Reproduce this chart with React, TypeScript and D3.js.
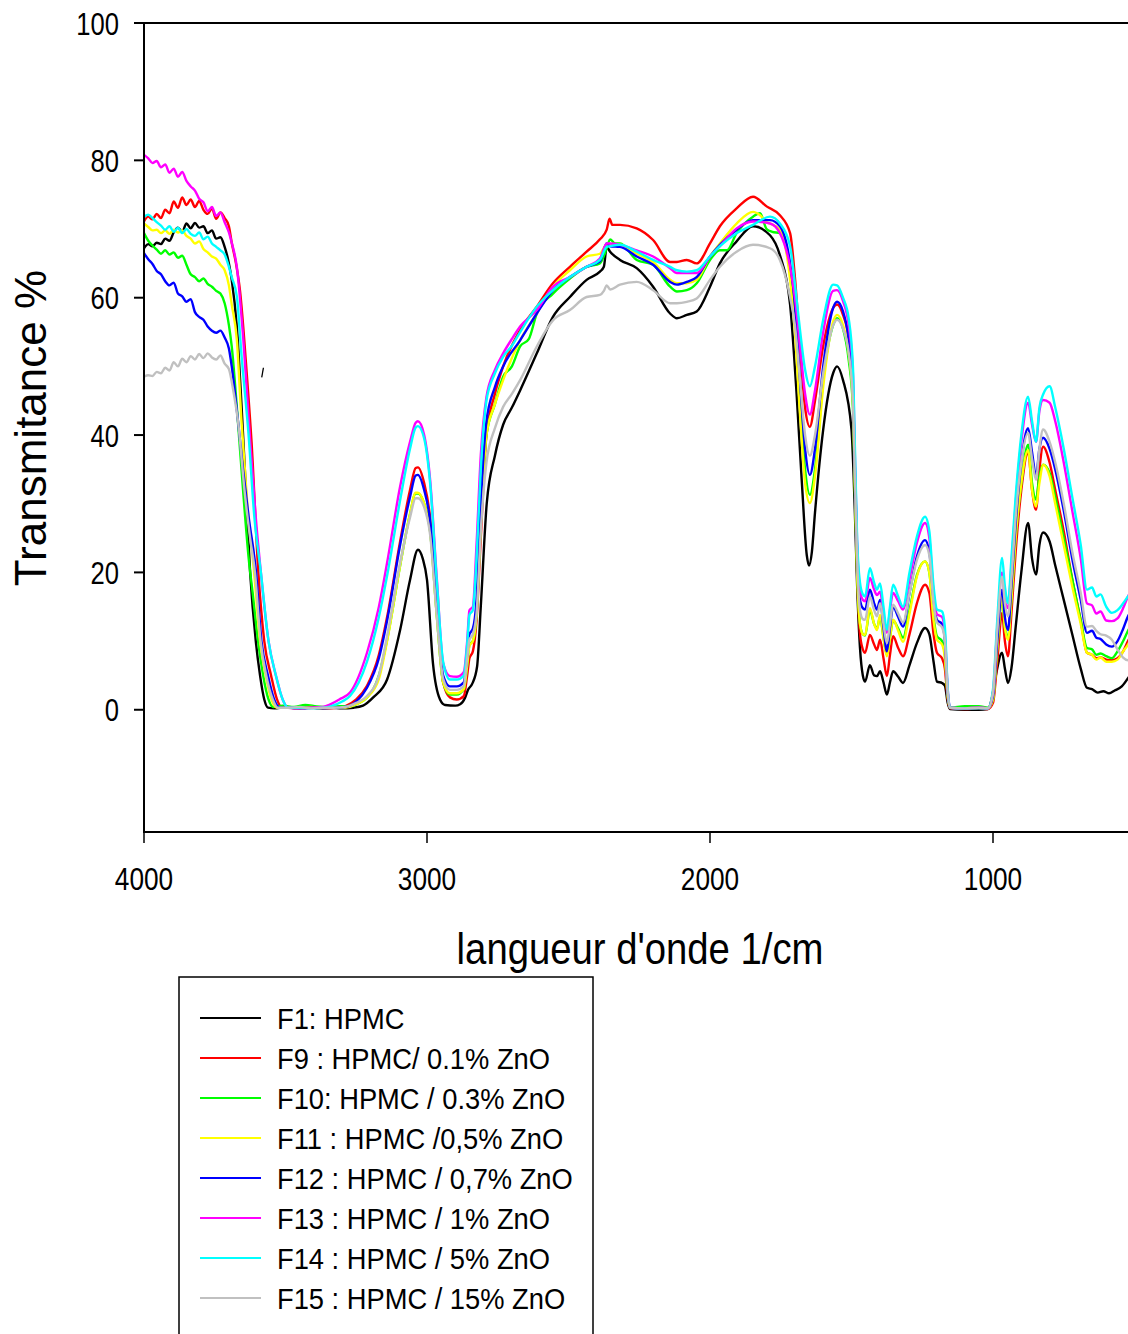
import React from 'react';
import * as d3 from 'd3';

type P = [number, number];

const noiseWaves = [4000, 3985, 3970, 3955, 3940, 3925, 3910, 3895, 3880, 3865, 3850, 3835, 3820, 3805, 3790, 3775, 3760, 3745, 3730, 3715, 3700];

const f1Noise = [67.2, 67.8, 67.5, 68.0, 67.8, 68.6, 68.3, 69.5, 70.2, 69.6, 70.8, 70.1, 70.9, 70.2, 70.4, 69.4, 69.8, 68.6, 68.8, 67.4, 65.0];
const f1Tail: P[] = [[3690,62.6],[3672,55.8],[3655,44],[3640,32],[3625,20],[3605,10],[3590,5],[3575,1.5],[3562,0.3],[3540,0.2],[3500,0.4],[3460,0.2],[3420,0.4],[3380,0.2],[3340,0.3],[3300,0.2],[3260,0.3],[3226,0.6],[3190,1.8],[3141,4.4],[3095,11.6],[3060,18.9],[3032,23.3],[3015,22],[3000,18.9],[2979,6.8],[2954,1.5],[2936,0.7],[2900,0.6],[2883,0.8],[2865,1.8],[2855,2.9],[2840,3.8],[2823,6.3],[2810,15],[2789,30],[2760,37],[2731,41.5],[2700,44],[2671,46.5],[2612,51.9],[2555,57.2],[2495,60.1],[2436,62.6],[2389,63.8],[2375,64.5],[2365,67.4],[2353,66.7],[2318,65.5],[2259,64.3],[2201,61.6],[2141,57.7],[2117,57],[2082,57.5],[2047,58],[2000,61.6],[1965,65],[1906,68.2],[1848,70.4],[1788,69.1],[1753,66.2],[1717,59],[1694,46],[1676,33.5],[1658,22.5],[1650,21],[1640,23],[1629,28.7],[1600,40.8],[1565,49],[1551,50],[1530,48],[1500,40.8],[1488,28.7],[1480,18],[1470,9],[1460,5],[1452,4.1],[1435,6.5],[1420,5.0],[1410,4.9],[1399,5.6],[1387,4],[1375,2.2],[1364,4],[1353,5.6],[1335,4.8],[1318,3.9],[1295,6.5],[1269,9.7],[1240,11.9],[1225,11],[1210,7],[1198,4.1],[1180,3.9],[1170,3.5],[1160,1],[1152,0.1],[1100,0],[1050,0],[1018,0.1],[1005,1.5],[990,5],[968,8.3],[958,6],[947,3.9],[935,6],[920,12],[900,20],[876,27.2],[862,22],[848,19.7],[836,24],[823,25.8],[800,24.5],[780,21],[750,16],[720,11],[690,6],[668,3.2],[650,3],[630,2.5],[610,2.7],[590,2.4],[570,2.8],[545,3.4],[523,4.6],[510,5.5]];

const f9Noise = [71.1, 71.8, 71.4, 72.2, 71.6, 72.8, 72.3, 74.0, 73.1, 74.6, 73.5, 74.3, 73.2, 74.1, 72.8, 72.2, 73.0, 71.5, 72.4, 71.6, 70.4];
const f9Tail: P[] = [[3690,68],[3675,65],[3661,61.1],[3637,49],[3620,39],[3596,20],[3575,10],[3551,5],[3530,1.5],[3512,0.3],[3480,0.3],[3440,0.2],[3400,0.4],[3360,0.2],[3320,0.3],[3290,0.5],[3250,1.5],[3212,3.5],[3170,8],[3141,13.5],[3095,24.5],[3060,32],[3040,35.2],[3032,35.3],[3010,33],[2989,28],[2965,15],[2943,4],[2919,1.8],[2895,1.5],[2870,2],[2858,5],[2850,7.5],[2838,8.5],[2825,13],[2810,25],[2790,40],[2760,46],[2731,50],[2671,55.3],[2612,58.7],[2555,62.1],[2495,64.5],[2436,66.7],[2389,68.5],[2365,69.9],[2355,71.5],[2345,70.6],[2318,70.6],[2259,70.1],[2201,68.4],[2141,65.2],[2117,65.2],[2082,65.5],[2047,65],[2000,67.9],[1965,70.4],[1906,73],[1848,74.7],[1800,73.3],[1753,72],[1717,69.4],[1700,63],[1682,53],[1664,44],[1647,41.2],[1629,45],[1600,53],[1565,58.5],[1551,59],[1530,57.5],[1510,54],[1495,46],[1488,33],[1480,20],[1470,11],[1460,8.8],[1452,8.3],[1435,10.9],[1420,9.5],[1410,8.7],[1399,10.2],[1387,7.5],[1375,4.9],[1364,8],[1353,10.7],[1335,9],[1318,7.8],[1295,11],[1269,15.5],[1240,18.2],[1225,17],[1210,11],[1198,8.3],[1180,7.5],[1170,6],[1160,1.5],[1152,0.2],[1100,0.1],[1050,0.2],[1018,0.1],[1000,1],[985,7],[968,14.1],[958,10],[947,7.8],[935,14],[920,23],[900,32],[876,37.5],[862,32],[848,29.1],[836,35],[823,38.3],[800,36],[780,32],[750,26],[720,19],[690,13],[668,8.3],[650,8],[635,7.5],[620,7.6],[600,7.3],[580,7.2],[560,7.5],[540,8.5],[523,10],[510,11]];

const f10Noise = [69.4, 68.3, 67.6, 67.0, 66.4, 66.9, 66.3, 66.6, 65.8, 66.1, 64.8, 63.4, 63.0, 62.4, 62.8, 62.0, 61.6, 61.0, 60.6, 59.2, 56.0];
const f10Tail: P[] = [[3690,52.9],[3672,44.1],[3650,32],[3630,22],[3616,17],[3600,11],[3579,5],[3560,1.5],[3544,0.4],[3510,0.6],[3470,0.4],[3430,0.7],[3390,0.5],[3350,0.4],[3310,0.5],[3270,0.5],[3240,1],[3212,1.8],[3170,5],[3141,10.2],[3095,21],[3060,28.5],[3040,31.5],[3032,31.5],[3010,30],[2989,26],[2965,13.5],[2943,4],[2919,2.2],[2895,2.2],[2870,3],[2858,6.5],[2850,9.5],[2838,10],[2825,14],[2810,27],[2790,40],[2760,44.5],[2731,48.5],[2700,50],[2671,52.9],[2640,54],[2612,57.7],[2555,60.6],[2495,62.8],[2436,64.5],[2389,65],[2365,67.2],[2353,68.5],[2335,67.9],[2318,67.9],[2259,65.5],[2201,64.8],[2141,61.6],[2117,60.9],[2082,61.1],[2047,62.1],[2000,65.5],[1965,66.9],[1940,66.9],[1906,69.4],[1848,71.8],[1823,72.3],[1800,70],[1780,69.6],[1753,69.4],[1717,63.6],[1700,57],[1682,45],[1664,35],[1647,31.3],[1629,35],[1600,48],[1565,56],[1551,57],[1530,55.5],[1510,51],[1495,44],[1488,32],[1480,20],[1470,12.5],[1460,11],[1452,10.8],[1435,14.5],[1420,12.5],[1410,11.8],[1399,13.5],[1387,10.5],[1375,8],[1364,10.5],[1353,13],[1335,11.8],[1318,10.5],[1295,14.5],[1269,19.6],[1240,21.6],[1225,20],[1210,13.5],[1198,10.7],[1180,10],[1170,8],[1160,2],[1152,0.3],[1100,0.5],[1050,0.5],[1018,0.3],[1000,1.5],[985,9],[968,16],[958,12],[947,10.6],[935,16],[920,25],[900,33],[876,38.6],[862,33],[848,30.6],[836,34],[823,35.7],[800,34.5],[780,31],[750,25],[720,19],[690,13],[668,9],[650,8.8],[635,8],[620,8.2],[600,7.8],[580,7.5],[560,8.5],[540,10],[523,11.5],[510,12.5]];

const f11Noise = [70.8, 70.3, 69.8, 69.9, 69.4, 69.8, 69.3, 69.9, 69.5, 69.8, 69.0, 68.6, 67.9, 68.2, 67.1, 66.6, 66.0, 65.7, 64.8, 64.0, 61.8];
const f11Tail: P[] = [[3690,59],[3672,53.9],[3655,41.7],[3635,30],[3611,20],[3590,10],[3570,5],[3550,1.5],[3530,0.3],[3490,0.3],[3450,0.2],[3410,0.4],[3370,0.2],[3330,0.3],[3290,0.3],[3250,0.8],[3212,1.8],[3170,4.5],[3141,10],[3095,21],[3060,28.5],[3040,31.6],[3032,31.6],[3010,30],[2989,26],[2965,13.5],[2943,4],[2919,2.4],[2895,2.4],[2870,3],[2858,6.5],[2850,9.3],[2838,10],[2825,14],[2810,27],[2790,40],[2760,44.5],[2731,48],[2671,53.8],[2612,57.7],[2555,61.6],[2495,64],[2436,66],[2389,66.4],[2365,67.7],[2318,67.7],[2259,66.4],[2201,65.2],[2141,62.6],[2117,62.1],[2082,62.1],[2047,62.6],[2000,66],[1965,67.9],[1906,70.8],[1848,72.5],[1823,72],[1800,71],[1788,70.8],[1753,69.9],[1717,62.6],[1700,55],[1682,43],[1664,33],[1647,30.1],[1629,34],[1600,47],[1565,56.5],[1551,57.5],[1530,56],[1510,52],[1495,45],[1488,33],[1480,20],[1470,12.5],[1460,11],[1452,10.9],[1435,14.8],[1420,12.5],[1410,11.6],[1399,13.8],[1387,10.5],[1375,7.8],[1364,10.5],[1353,13.1],[1335,11.5],[1318,9.9],[1295,14],[1269,19.4],[1240,21.6],[1225,20],[1210,13],[1198,10.2],[1180,9.5],[1170,7.5],[1160,2],[1152,0.3],[1100,0.2],[1050,0.3],[1018,0.2],[1000,1.5],[985,9],[968,16.5],[958,12],[947,10.2],[935,16],[920,25],[900,33],[876,37.8],[862,32],[848,29.6],[836,33],[823,35.7],[800,34],[780,30],[750,24],[720,18],[690,12.5],[668,8.3],[650,8],[635,7.3],[620,7.6],[600,7],[580,7],[560,7.3],[540,8.5],[523,9.5],[510,10.5]];

const f12Noise = [66.5, 65.6, 64.9, 63.9, 63.4, 62.4, 61.8, 62.2, 60.6, 60.2, 59.4, 59.8, 57.9, 57.2, 56.8, 55.8, 55.2, 54.9, 55.2, 54.2, 52.6];
const f12Tail: P[] = [[3690,50],[3667,41.7],[3650,35],[3630,28],[3604,20],[3585,10],[3562,5],[3540,1.5],[3519,0.3],[3480,0.3],[3440,0.2],[3400,0.3],[3360,0.2],[3320,0.3],[3290,0.4],[3250,1.2],[3212,3.2],[3170,7.5],[3141,13],[3095,24],[3060,31],[3040,34.1],[3032,34.2],[3010,32],[2989,27.5],[2965,15],[2943,5],[2919,3.4],[2895,3.4],[2870,4],[2858,8],[2850,11],[2838,11.8],[2825,16],[2810,30],[2790,42],[2760,47],[2731,50],[2671,53.8],[2612,57.7],[2555,61.1],[2495,63],[2436,64.5],[2389,65.3],[2365,67.9],[2353,67.5],[2318,67.4],[2259,66],[2201,64.8],[2141,62.3],[2117,61.9],[2082,62.3],[2047,63],[2000,66],[1965,67.7],[1906,69.9],[1848,71.3],[1788,71.3],[1753,70.4],[1717,65],[1700,59],[1682,48],[1664,38],[1647,34.2],[1629,38],[1600,50],[1565,58.5],[1551,59.4],[1530,58],[1510,54],[1495,47],[1488,35],[1480,23],[1470,16],[1460,14.8],[1452,14.6],[1435,17.5],[1420,15.5],[1410,14.6],[1399,16],[1387,12],[1375,8.5],[1364,12],[1353,15],[1335,13.5],[1318,12.1],[1295,17],[1269,22.3],[1240,24.7],[1225,23],[1210,16],[1198,13.1],[1180,12.5],[1170,10],[1160,2.5],[1152,0.3],[1100,0.2],[1050,0.3],[1018,0.2],[1000,2],[985,10],[968,17.5],[958,13.5],[947,11.6],[935,18],[920,27],[900,36],[876,41],[862,37.5],[848,34],[836,38],[823,39.6],[800,38],[780,35],[750,29],[720,22],[690,16],[668,11.2],[650,11.5],[635,10.5],[620,10.3],[600,9.5],[580,9.2],[560,10],[540,11.8],[523,13.6],[510,14.5]];

const f13Noise = [80.8, 80.3, 79.6, 79.9, 79.0, 79.4, 78.2, 78.8, 77.6, 78.3, 77.0, 76.2, 75.6, 74.4, 73.9, 72.6, 73.2, 71.9, 72.4, 71.0, 69.5];
const f13Tail: P[] = [[3690,68],[3672,64.5],[3649,53.9],[3625,39.3],[3605,28],[3587,20],[3560,10],[3534,5],[3510,1.5],[3491,0.3],[3450,0.2],[3410,0.3],[3370,0.4],[3353,0.6],[3310,1.5],[3272,2.5],[3212,8.3],[3170,15],[3141,21.4],[3095,32.5],[3060,39],[3040,41.8],[3032,42],[3010,40],[2989,33.5],[2965,18.9],[2943,6.8],[2919,4.9],[2895,4.8],[2870,5.5],[2858,10],[2850,14.5],[2838,15],[2825,24],[2810,37],[2790,45.5],[2760,49.5],[2731,51.9],[2700,54],[2671,55.8],[2612,58.2],[2555,61.6],[2495,63],[2436,64.5],[2389,65.7],[2365,67.9],[2353,67.9],[2318,67.7],[2259,66.9],[2201,66],[2141,64.3],[2117,63.6],[2082,63.6],[2047,63.6],[2000,66],[1965,67.5],[1906,70.1],[1848,71.1],[1788,70.8],[1753,69.4],[1717,64.5],[1700,60],[1682,53],[1664,46],[1647,43],[1629,46.5],[1600,55],[1565,61],[1551,61.1],[1530,59.5],[1510,56],[1495,49],[1488,37],[1480,24],[1470,17.5],[1460,16],[1452,15.8],[1435,19.2],[1420,17.5],[1410,16.7],[1399,17.2],[1387,14],[1375,11.2],[1364,14.5],[1353,17],[1335,15.8],[1318,14.6],[1295,19],[1269,24.3],[1240,27.2],[1225,25],[1210,17],[1198,13.9],[1180,13.5],[1170,11],[1160,3],[1152,0.3],[1100,0.2],[1050,0.3],[1018,0.2],[1000,2.5],[985,12],[968,20],[958,16],[947,14.8],[935,21],[920,30],[900,39],[876,44.7],[862,41.5],[848,39],[836,43.5],[823,45.1],[800,44.7],[780,42],[750,36],[720,29],[690,22],[668,15.5],[650,15.2],[635,14],[620,14.3],[600,13],[580,12.9],[560,13.3],[540,14.8],[523,16.5],[510,17.5]];

const f14Noise = [71.8, 72.1, 71.6, 71.0, 70.5, 69.9, 70.4, 69.6, 70.2, 69.4, 70.0, 69.3, 69.0, 69.5, 68.5, 68.9, 67.9, 67.4, 66.9, 66.3, 64.5];
const f14Tail: P[] = [[3690,63],[3672,60.2],[3655,51.4],[3631,40.3],[3610,28],[3587,20],[3560,10],[3534,5],[3510,1.5],[3491,0.3],[3450,0.3],[3410,0.2],[3370,0.3],[3340,0.5],[3300,1.2],[3272,2],[3212,7],[3170,13.5],[3141,19.5],[3095,30.5],[3060,38],[3040,41.1],[3032,41.3],[3010,39.5],[2989,33],[2965,18.5],[2943,7],[2919,4.4],[2895,4.4],[2870,5],[2858,9.5],[2850,13.8],[2838,14.5],[2825,22],[2810,35],[2790,45],[2760,49],[2731,51.4],[2700,53],[2671,55],[2612,58.7],[2555,61.1],[2495,63],[2436,64.5],[2389,65.5],[2365,67.4],[2353,67.5],[2318,67.7],[2259,66.7],[2201,65.5],[2141,64.5],[2117,64],[2082,63.8],[2047,64],[2000,66],[1965,67.5],[1906,69.4],[1848,70.6],[1788,71.8],[1753,70.8],[1717,67.5],[1700,62],[1682,55.3],[1664,49.5],[1647,47.1],[1629,50],[1600,56.8],[1565,61.9],[1551,61.8],[1530,60],[1510,57],[1495,50],[1488,38.3],[1480,24.7],[1470,18.5],[1460,16.8],[1452,16.5],[1435,20.6],[1420,18.5],[1410,17.5],[1399,18.4],[1387,15],[1375,11.6],[1364,15],[1353,18.2],[1335,16.5],[1318,15],[1295,20],[1269,25.2],[1240,28.1],[1225,26],[1210,18],[1198,14.6],[1180,14.3],[1170,12],[1160,3],[1152,0.3],[1100,0.2],[1050,0.2],[1018,0.2],[1000,3],[985,13],[968,22.1],[958,18],[947,15.5],[935,22],[920,31],[900,40],[876,45.6],[862,42],[848,39],[836,44],[823,45.9],[800,47.1],[780,44],[750,38],[720,31],[690,24],[668,17.5],[650,17.8],[635,16.5],[620,16.8],[600,15],[580,14.1],[560,14.5],[540,15.5],[523,16.5],[510,17.2]];

const f15Noise = [48.5, 48.7, 48.6, 49.2, 49.0, 49.8, 49.4, 50.6, 50.0, 51.1, 50.6, 51.5, 51.0, 51.8, 51.2, 51.9, 51.3, 51.0, 51.6, 50.4, 49.6];
const f15Tail: P[] = [[3685,46.6],[3667,41.7],[3645,32],[3625,25],[3608,20],[3588,10],[3568,5],[3545,1.5],[3527,0.3],[3490,0.3],[3450,0.4],[3410,0.2],[3370,0.3],[3330,0.3],[3290,0.4],[3250,1],[3212,2],[3170,5],[3141,10.7],[3095,21.4],[3060,28],[3040,30.8],[3032,30.8],[3010,29.5],[2989,25.5],[2965,13.5],[2943,4.5],[2919,2.9],[2895,2.9],[2870,3.5],[2858,7.5],[2850,10.2],[2838,11],[2825,14],[2810,26],[2790,36],[2760,41],[2731,44.1],[2700,46],[2671,48],[2612,52.9],[2555,56.7],[2495,58.2],[2436,60.1],[2389,60.4],[2375,61],[2365,61.8],[2353,61.2],[2318,61.9],[2259,62.3],[2201,61.1],[2141,59.2],[2117,59.2],[2082,59.4],[2047,59.9],[2000,62.6],[1965,64.5],[1906,66.7],[1848,67.7],[1788,67.2],[1753,65.5],[1717,60.1],[1700,56],[1682,48],[1664,40],[1647,37],[1629,40],[1600,49],[1565,56],[1551,56.8],[1530,55.5],[1510,52],[1495,45],[1488,34],[1480,22],[1470,14.5],[1460,13.2],[1452,13.1],[1435,16.5],[1420,14.5],[1410,13.6],[1399,15.5],[1387,12.5],[1375,9.7],[1364,12.5],[1353,15.3],[1335,14],[1318,12.7],[1295,17],[1269,21.8],[1240,24],[1225,22.5],[1210,15.5],[1198,12.7],[1180,12],[1170,10],[1160,2.5],[1152,0.3],[1100,0.2],[1050,0.3],[1018,0.2],[1000,2.5],[985,11.5],[968,19.4],[958,15.5],[947,13.6],[935,19],[920,28],[900,36],[876,40.3],[862,36.5],[848,33.5],[836,38],[823,40.8],[800,39],[780,36],[750,30],[720,23],[690,17],[668,12.1],[650,12.2],[635,11.5],[620,11],[600,10.8],[580,10.2],[560,8.8],[540,7.6],[523,7.2],[510,7.2]];

const seriesNames = [
  'F1: HPMC',
  'F9 : HPMC/ 0.1% ZnO',
  'F10: HPMC / 0.3% ZnO',
  'F11 : HPMC /0,5% ZnO',
  'F12 : HPMC / 0,7% ZnO',
  'F13 : HPMC / 1% ZnO',
  'F14 : HPMC / 5% ZnO',
  'F15 : HPMC / 15% ZnO',
];
const seriesColors = ['#000000', '#ff0000', '#00ff00', '#ffff00', '#0000ff', '#ff00ff', '#00ffff', '#c0c0c0'];
const seriesNoise = [f1Noise, f9Noise, f10Noise, f11Noise, f12Noise, f13Noise, f14Noise, f15Noise];
const seriesTail = [f1Tail, f9Tail, f10Tail, f11Tail, f12Tail, f13Tail, f14Tail, f15Tail];

const yTicks = [0, 20, 40, 60, 80, 100];
const xTicks = [4000, 3000, 2000, 1000];
const strayMark: P[] = [[3584, 48.4], [3578, 49.8]];

const FONT = '"Liberation Sans", Arial, Helvetica, sans-serif';

export default function App() {
  const W = 1128;
  const H = 1334;
  const left = 144, right = 1128, top = 23, bottom = 832;
  const x = d3.scaleLinear().domain([4000, 500]).range([left, left + 3500 * 0.283]);
  const y = d3.scaleLinear().domain([-17.8, 100]).range([bottom, top]);
  const line = d3.line<P>().x(d => x(d[0])).y(d => y(d[1])).curve(d3.curveMonotoneX);
  const series = seriesNames.map((name, i) => {
    const pts: P[] = noiseWaves.map((w, k) => [w, seriesNoise[i][k]] as P).concat(seriesTail[i]);
    return { name, color: seriesColors[i], pts };
  });
  const legendX = 179, legendY = 977;
  const rowY = (i: number) => 1018 + i * 40;

  return (
    <svg width={W} height={H} style={{ position: 'absolute', left: 0, top: 0, background: '#fff' }} fontFamily={FONT}>
      <rect x={0} y={0} width={W} height={H} fill="#fff" />
      <defs>
        <clipPath id="plotClip">
          <rect x={left} y={top} width={right - left} height={bottom - top} />
        </clipPath>
      </defs>
      <g clipPath="url(#plotClip)">
        {series.map(s => (
          <path key={s.name} d={line(s.pts) || ''} fill="none" stroke={s.color} strokeWidth={2.4} strokeLinejoin="round" />
        ))}
      </g>
      <line x1={x(strayMark[0][0])} y1={y(strayMark[0][1])} x2={x(strayMark[1][0])} y2={y(strayMark[1][1])} stroke="#000" strokeWidth={1.3} />
      <line x1={left} y1={top} x2={right} y2={top} stroke="#000" strokeWidth={2} />
      <line x1={left} y1={top - 1} x2={left} y2={bottom + 1} stroke="#000" strokeWidth={2} />
      <line x1={left} y1={bottom} x2={right} y2={bottom} stroke="#000" strokeWidth={2} />
      {yTicks.map(t => (
        <g key={'y' + t}>
          <line x1={left - 10} y1={y(t)} x2={left} y2={y(t)} stroke="#000" strokeWidth={2} />
          <text transform={`translate(119,${y(t)}) scale(0.8,1)`} textAnchor="end" dy="0.36em" fontSize={32} fill="#000">{t}</text>
        </g>
      ))}
      {xTicks.map(t => (
        <g key={'x' + t}>
          <line x1={x(t)} y1={bottom} x2={x(t)} y2={bottom + 11} stroke="#000" strokeWidth={1.5} />
          <text transform={`translate(${x(t)},890) scale(0.82,1)`} textAnchor="middle" fontSize={32} fill="#000">{t}</text>
        </g>
      ))}
      <text transform="translate(640,964) scale(0.87,1)" textAnchor="middle" fontSize={44} fill="#000">langueur d'onde 1/cm</text>
      <text transform="translate(46,428) rotate(-90)" textAnchor="middle" fontSize={44} fill="#000">Transmitance %</text>
      <rect x={legendX} y={legendY} width={414} height={420} fill="none" stroke="#000" strokeWidth={1.5} />
      {series.map((s, i) => (
        <g key={'lg' + i}>
          <line x1={200} y1={rowY(i)} x2={261} y2={rowY(i)} stroke={s.color} strokeWidth={2} />
          <text transform={`translate(277,${rowY(i) + 11}) scale(0.91,1)`} fontSize={30} fill="#000">{s.name}</text>
        </g>
      ))}
    </svg>
  );
}
